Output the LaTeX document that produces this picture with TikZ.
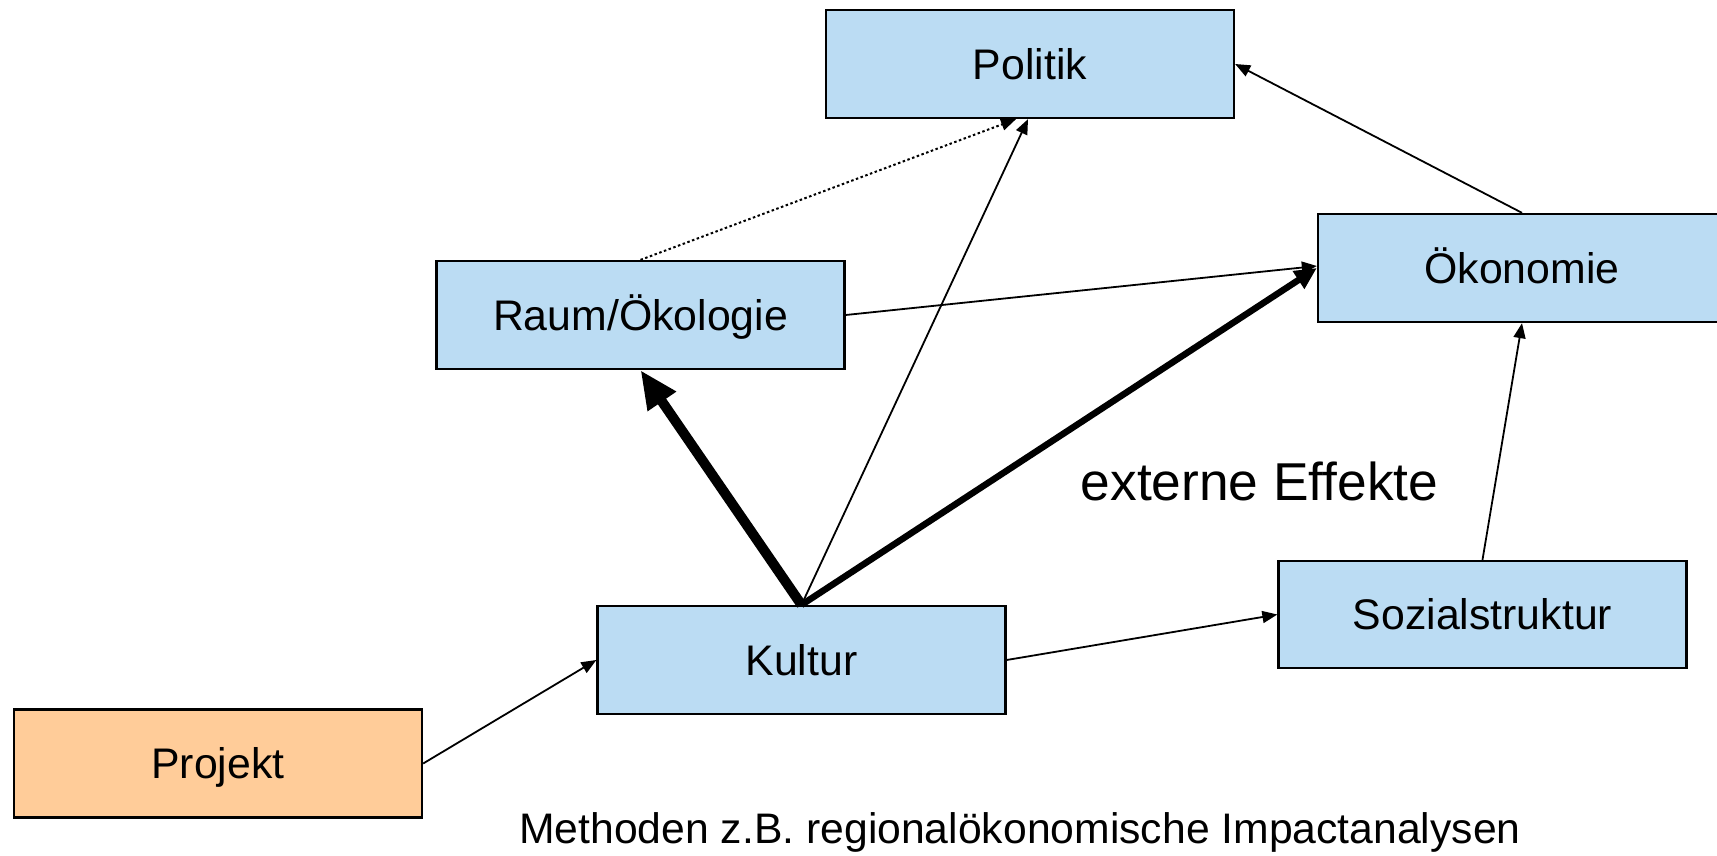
\documentclass[tikz,border=0pt]{standalone}
\usepackage{fontspec}
\setmainfont{Liberation Sans}
\usetikzlibrary{arrows.meta}
\definecolor{boxblue}{RGB}{187,220,243}
\definecolor{boxorange}{RGB}{255,204,153}
\begin{document}
\begin{tikzpicture}[x=1pt,y=-1pt,
  box/.style={draw=black, line width=2.3pt, fill=boxblue, minimum width=408pt,
    minimum height=108pt, inner sep=0pt, text height=30.5pt, text depth=0pt,
    font=\fontsize{42.8}{50}\selectfont},
  thinarrow/.style={draw=black, line width=1.8pt, -{Triangle[length=15pt,width=12pt]}},
  dotarrow/.style={draw=black, line width=2pt, dash pattern=on 2.5pt off 2.5pt,
    -{Triangle[length=15pt,width=12pt]}},
  fatarrow/.style={draw=black, line width=10pt, -{Triangle[length=38pt,width=32pt]}},
  midarrow/.style={draw=black, line width=6.5pt, -{Triangle[length=22pt,width=20pt]}},
  label/.style={anchor=base, inner sep=0pt}
]
\useasboundingbox (0,0) rectangle (1717,855);
\fill[white] (0,0) rectangle (1717,855);

\node[box] (pol) at (1030,64) {Politik};
\node[box] (oek) at (1522,268) {Ökonomie};
\node[box] (raum) at (640.5,315) {Raum/Ökologie};
\node[box] (kul) at (801.5,660) {Kultur};
\node[box, minimum height=107pt] (soz) at (1482.5,614.5) {Sozialstruktur};
\node[box, fill=boxorange] (proj) at (218,763.5) {Projekt};

\node[label, font=\fontsize{53.3}{62}\selectfont] (ext) at (1259.5,500) {externe Effekte};
\node[label, font=\fontsize{42.7}{50}\selectfont] (meth) at (1020,843)
  {Methoden z.B. regionalökonomische Impactanalysen};

\draw[thinarrow] (proj.east) -- (kul.west);
\draw[thinarrow] (kul.east) -- (soz.west);
\draw[thinarrow] (soz.north) -- (oek.south);
\draw[thinarrow] (oek.north) -- (pol.east);
\draw[thinarrow] (raum.east) -- ([yshift=2pt]oek.west);
\draw[dotarrow] (raum.north) -- ([xshift=-14pt]pol.south);
\draw[thinarrow] (kul.north) -- ([xshift=-2pt]pol.south);
\draw[fatarrow] (kul.north) -- (raum.south);
\draw[midarrow] (kul.north) -- (oek.west);
\end{tikzpicture}
\end{document}
